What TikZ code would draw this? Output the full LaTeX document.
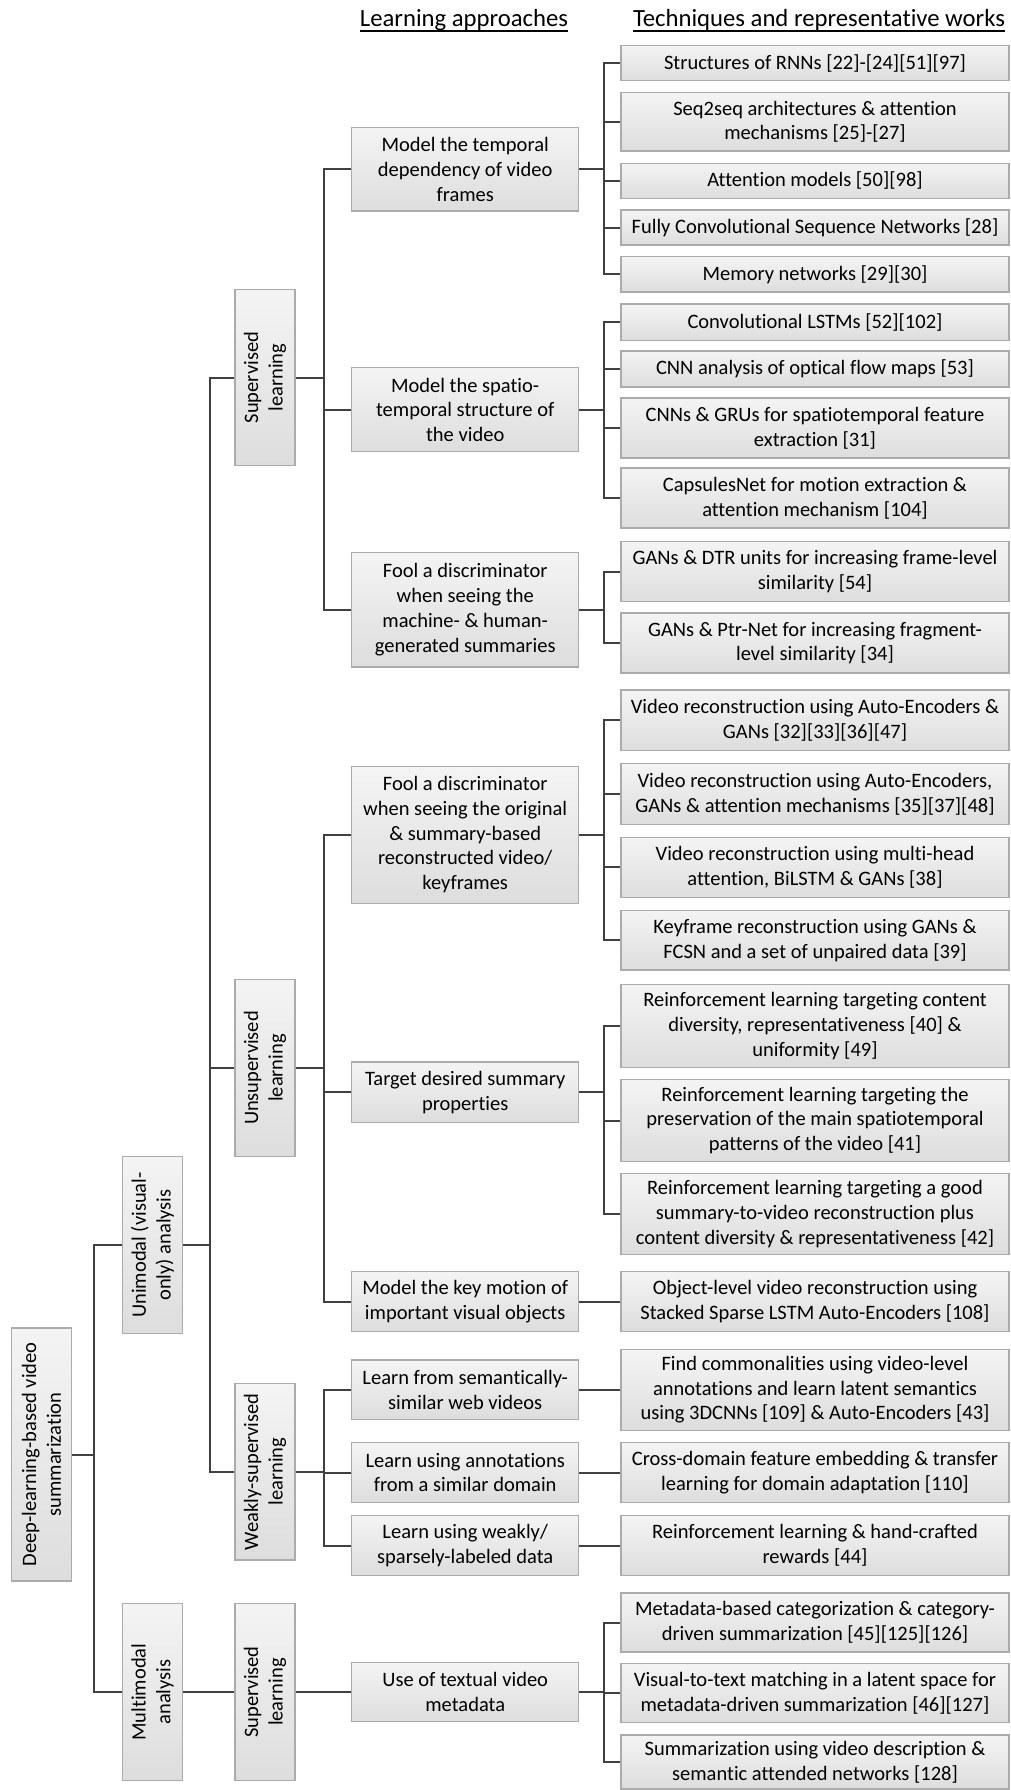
\documentclass[tikz,border=0pt]{standalone}
\usepackage{fontspec}
\setmainfont{Carlito}[Ligatures={NoCommon}]
\definecolor{boxtop}{HTML}{F4F4F4}
\definecolor{boxbot}{HTML}{DDDDDD}
\definecolor{boxline}{HTML}{ABABAB}
\definecolor{wire}{HTML}{404040}

\begin{document}
\begin{tikzpicture}[x=1pt, y=-1pt]
	\tikzstyle{Box} = [draw=boxline, line width=1.2pt, top color=boxtop, bottom color=boxbot, align=center, inner sep=1pt, font=\fontsize{20.5}{24.7}\selectfont]
	\tikzstyle{Tech} = [Box, minimum width=388pt]
	\tikzstyle{Approach} = [Box, minimum width=227pt]
	\tikzstyle{Level} = [Box, rotate=90, minimum height=60pt]
	\tikzstyle{Wire} = [draw=wire, line width=2pt]
	\tikzstyle{Header} = [inner sep=0pt, anchor=base, font=\fontsize{24.7}{29}\selectfont]
	
	\useasboundingbox (0,0) rectangle (1011,1790);
	
	\node[name=hdA, Header] at (464,27) {Learning approaches};
	\node[name=hdT, Header] at (819,27) {Techniques and representative works};
	\draw[line width=1.2pt] ([yshift=-4pt]hdA.base west) -- ([yshift=-4pt]hdA.base east);
	\draw[line width=1.2pt] ([yshift=-4pt]hdT.base west) -- ([yshift=-4pt]hdT.base east);
	
	\node[name=root, Level, minimum width=253pt] at (41.5,1454.5) {Deep-learning-based video\\summarization};
	
	\node[name=uni, Level, minimum width=177pt] at (152.5,1245) {Unimodal (visual-\\only) analysis};
	\node[name=multi, Level, minimum width=177pt] at (152.5,1692) {Multimodal\\analysis};
	
	\node[name=sup, Level, minimum width=176.5pt] at (265,377.5) {Supervised\\learning};
	\node[name=unsup, Level, minimum width=177pt] at (265,1068) {Unsupervised\\learning};
	\node[name=weak, Level, minimum width=176.5pt] at (265,1471.7) {Weakly-supervised\\learning};
	\node[name=sup2, Level, minimum width=177pt] at (265,1692) {Supervised\\learning};
	
	\node[name=a1, Approach, minimum height=83.3pt] at (465.2,169.3) {Model the temporal\\dependency of video\\frames};
	\node[name=a2, Approach, minimum height=84pt] at (465.2,409.7) {Model the spatio-\\temporal structure of\\the video};
	\node[name=a3, Approach, minimum height=114.7pt] at (465.2,609.6) {Fool a discriminator\\when seeing the\\machine- \& human-\\generated summaries};
	\node[name=a4, Approach, minimum height=137pt] at (465.2,834.8) {Fool a discriminator\\when seeing the original\\\& summary-based\\reconstructed video/\\keyframes};
	\node[name=a5, Approach, minimum height=60.3pt] at (465.2,1092.2) {Target desired summary\\properties};
	\node[name=a6, Approach, minimum height=59.3pt] at (465.2,1301.5) {Model the key motion of\\important visual objects};
	\node[name=a7, Approach, minimum height=59.7pt] at (465.2,1389.8) {Learn from semantically-\\similar web videos};
	\node[name=a8, Approach, minimum height=59.8pt] at (465.2,1472.5) {Learn using annotations\\from a similar domain};
	\node[name=a9, Approach, minimum height=59.8pt] at (465.2,1545.5) {Learn using weakly/\\sparsely-labeled data};
	\node[name=a10, Approach, minimum height=59pt] at (465.2,1692) {Use of textual video\\metadata};
	
	\node[name=t1, Tech, minimum height=35.2pt] at (815,63.1) {Structures of RNNs [22]-[24][51][97]};
	\node[name=t2, Tech, minimum height=58.7pt] at (815,121.7) {Seq2seq architectures \& attention\\mechanisms [25]-[27]};
	\node[name=t3, Tech, minimum height=35pt] at (815,180.8) {Attention models [50][98]};
	\node[name=t4, Tech, minimum height=35pt] at (815,227.5) {Fully Convolutional Sequence Networks [28]};
	\node[name=t5, Tech, minimum height=35.3pt] at (815,274.3) {Memory networks [29][30]};
	
	\node[name=t6, Tech, minimum height=36.5pt] at (815,322.3) {Convolutional LSTMs [52][102]};
	\node[name=t7, Tech, minimum height=36pt] at (815,369) {CNN analysis of optical flow maps [53]};
	\node[name=t8, Tech, minimum height=60pt] at (815,428) {CNNs \& GRUs for spatiotemporal feature\\extraction [31]};
	\node[name=t9, Tech, minimum height=60pt] at (815,498) {CapsulesNet for motion extraction \&\\attention mechanism [104]};
	
	\node[name=t10, Tech, minimum height=60pt] at (815,571.7) {GANs \& DTR units for increasing frame-level\\similarity [54]};
	\node[name=t11, Tech, minimum height=60pt] at (815,643) {GANs \& Ptr-Net for increasing fragment-\\level similarity [34]};
	
	\node[name=t12, Tech, minimum height=60.5pt] at (815,720.3) {Video reconstruction using Auto-Encoders \&\\GANs [32][33][36][47]};
	\node[name=t13, Tech, minimum height=60.3pt] at (815,794) {Video reconstruction using Auto-Encoders,\\GANs \& attention mechanisms [35][37][48]};
	\node[name=t14, Tech, minimum height=60pt] at (815,867.3) {Video reconstruction using multi-head\\attention, BiLSTM \& GANs [38]};
	\node[name=t15, Tech, minimum height=59.3pt] at (815,940.3) {Keyframe reconstruction using GANs \&\\FCSN and a set of unpaired data [39]};
	
	\node[name=t16, Tech, minimum height=82.3pt] at (815,1026) {Reinforcement learning targeting content\\diversity, representativeness [40] \&\\uniformity [49]};
	\node[name=t17, Tech, minimum height=82.3pt] at (815,1120.5) {Reinforcement learning targeting the\\preservation of the main spatiotemporal\\patterns of the video [41]};
	\node[name=t18, Tech, minimum height=81.6pt] at (815,1214) {Reinforcement learning targeting a good\\summary-to-video reconstruction plus\\content diversity \& representativeness [42]};
	
	\node[name=t19, Tech, minimum height=60pt] at (815,1301.5) {Object-level video reconstruction using\\Stacked Sparse LSTM Auto-Encoders [108]};
	\node[name=t20, Tech, minimum height=81pt] at (815,1389.8) {Find commonalities using video-level\\annotations and learn latent semantics\\using 3DCNNs [109] \& Auto-Encoders [43]};
	\node[name=t21, Tech, minimum height=60.6pt] at (815,1472.5) {Cross-domain feature embedding \& transfer\\learning for domain adaptation [110]};
	\node[name=t22, Tech, minimum height=59.4pt] at (815,1545.5) {Reinforcement learning \& hand-crafted\\rewards [44]};
	
	\node[name=t23, Tech, minimum height=59pt] at (815,1622.5) {Metadata-based categorization \& category-\\driven summarization [45][125][126]};
	\node[name=t24, Tech, minimum height=59pt] at (815,1693) {Visual-to-text matching in a latent space for\\metadata-driven summarization [46][127]};
	\node[name=t25, Tech, minimum height=54pt] at (815,1762) {Summarization using video description \&\\semantic attended networks [128]};
	
	\coordinate (rx) at (93.8,0);
	\coordinate (ux) at (209.5,0);
	\coordinate (ax) at (323.5,0);
	\coordinate (tx) at (603.5,0);
	
	\draw[Wire] (root.south) -| (rx |- uni.north) -- (uni.north);
	\draw[Wire] (root.south) -| (rx |- multi.north) -- (multi.north);
	
	\draw[Wire] (uni.south) -| (ux |- sup.north) -- (sup.north);
	\draw[Wire] (uni.south) -| (ux |- unsup.north) -- (unsup.north);
	\draw[Wire] (uni.south) -| (ux |- weak.north) -- (weak.north);
	\draw[Wire] (multi.south) -- (sup2.north);
	
	\draw[Wire] (sup.south) -| (ax |- a1.west) -- (a1.west);
	\draw[Wire] (sup.south) -| (ax |- a2.west) -- (a2.west);
	\draw[Wire] (sup.south) -| (ax |- a3.west) -- (a3.west);
	\draw[Wire] (unsup.south) -| (ax |- a4.west) -- (a4.west);
	\draw[Wire] (unsup.south) -| (ax |- a5.west) -- (a5.west);
	\draw[Wire] (unsup.south) -| (ax |- a6.west) -- (a6.west);
	\draw[Wire] (weak.south) -| (ax |- a7.west) -- (a7.west);
	\draw[Wire] (weak.south) -| (ax |- a8.west) -- (a8.west);
	\draw[Wire] (weak.south) -| (ax |- a9.west) -- (a9.west);
	\draw[Wire] (sup2.south) -- (a10.west);
	
	\draw[Wire] (a1.east) -| (tx |- t1.west) -- (t1.west);
	\draw[Wire] (a1.east) -| (tx |- t2.west) -- (t2.west);
	\draw[Wire] (a1.east) -| (tx |- t3.west) -- (t3.west);
	\draw[Wire] (a1.east) -| (tx |- t4.west) -- (t4.west);
	\draw[Wire] (a1.east) -| (tx |- t5.west) -- (t5.west);
	\draw[Wire] (a2.east) -| (tx |- t6.west) -- (t6.west);
	\draw[Wire] (a2.east) -| (tx |- t7.west) -- (t7.west);
	\draw[Wire] (a2.east) -| (tx |- t8.west) -- (t8.west);
	\draw[Wire] (a2.east) -| (tx |- t9.west) -- (t9.west);
	\draw[Wire] (a3.east) -| (tx |- t10.west) -- (t10.west);
	\draw[Wire] (a3.east) -| (tx |- t11.west) -- (t11.west);
	\draw[Wire] (a4.east) -| (tx |- t12.west) -- (t12.west);
	\draw[Wire] (a4.east) -| (tx |- t13.west) -- (t13.west);
	\draw[Wire] (a4.east) -| (tx |- t14.west) -- (t14.west);
	\draw[Wire] (a4.east) -| (tx |- t15.west) -- (t15.west);
	\draw[Wire] (a5.east) -| (tx |- t16.west) -- (t16.west);
	\draw[Wire] (a5.east) -| (tx |- t17.west) -- (t17.west);
	\draw[Wire] (a5.east) -| (tx |- t18.west) -- (t18.west);
	\draw[Wire] (a6.east) -- (t19.west);
	\draw[Wire] (a7.east) -- (t20.west);
	\draw[Wire] (a8.east) -- (t21.west);
	\draw[Wire] (a9.east) -- (t22.west);
	\draw[Wire] (a10.east) -| (tx |- t23.west) -- (t23.west);
	\draw[Wire] (a10.east) -| (tx |- t24.west) -- (t24.west);
	\draw[Wire] (a10.east) -| (tx |- t25.west) -- (t25.west);
\end{tikzpicture}
\end{document}
